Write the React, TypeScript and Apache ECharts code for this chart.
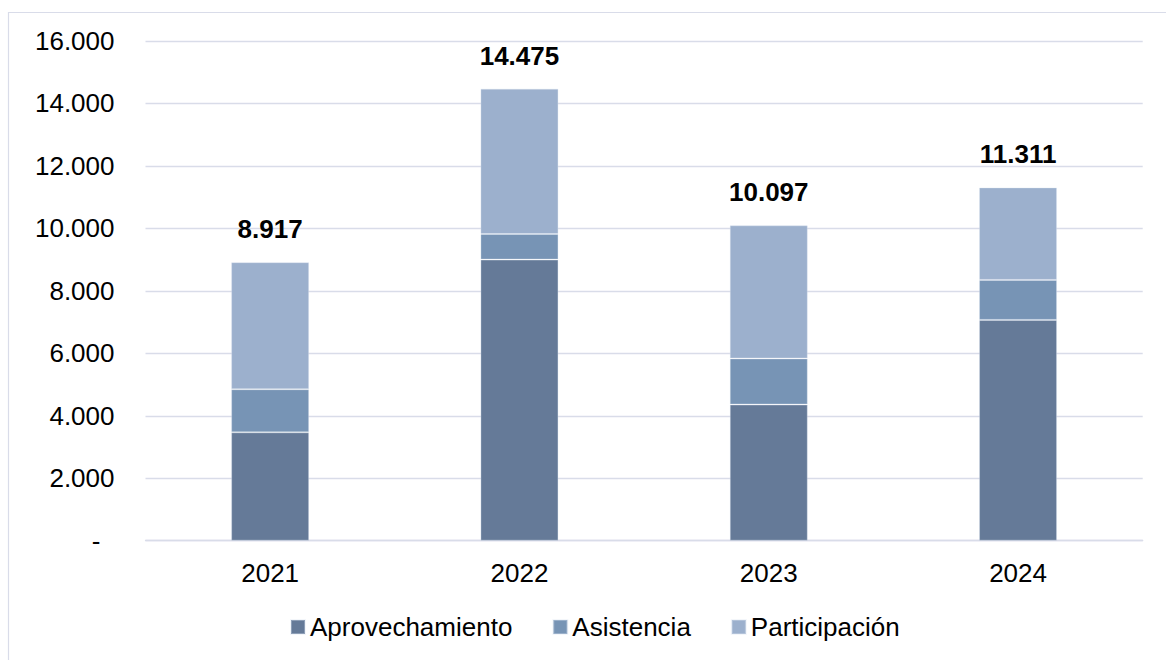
import React, { useEffect, useRef } from "react";
import * as echarts from "echarts";

const categories = ["2021", "2022", "2023", "2024"];
const aprovechamiento = [3470, 9000, 4360, 7070];
const asistencia = [1380, 820, 1475, 1280];
const participacion = [4067, 4655, 4262, 2961];
const totals = [8917, 14475, 10097, 11311];
const seriesNames = ["Aprovechamiento", "Asistencia", "Participación"];
const colors = ["#657a98", "#7794b5", "#9cb0cd"];

const FONT = "'Liberation Sans', Arial, sans-serif";

const fmt = (v: number) =>
  Math.round(v)
    .toString()
    .replace(/\B(?=(\d{3})+(?!\d))/g, ".");

export default function App() {
  const ref = useRef<HTMLDivElement>(null);
  useEffect(() => {
    if (!ref.current) return;
    const chart = echarts.init(ref.current, null, { renderer: "svg" });
    const mk = (name: string, data: number[], color: string, withLabel: boolean) => ({
      name,
      type: "bar",
      stack: "total",
      data,
      barWidth: 78,
      itemStyle: { color, borderColor: "rgba(220,228,240,0.35)", borderWidth: 1 },
      label: withLabel
        ? {
            show: true,
            position: "top",
            distance: 20,
            formatter: (p: any) => fmt(totals[p.dataIndex]),
            fontFamily: FONT,
            fontSize: 26,
            fontWeight: "bold",
            color: "#000",
          }
        : { show: false },
    });
    chart.setOption({
      animation: false,
      backgroundColor: "#fff",
      graphic: [
        {
          type: "rect",
          shape: { x: 8.5, y: 12.5, width: 1300, height: 800 },
          style: { fill: "none", stroke: "#d9dce9", lineWidth: 1.2 },
          silent: true,
          z: -10,
        },
      ],
      grid: { left: 145.5, right: 23.3, top: 41, bottom: 119.3, containLabel: false },
      legend: {
        data: seriesNames,
        left: 290,
        top: 614,
        padding: 0,
        itemWidth: 14,
        itemHeight: 14,
        itemGap: 40,
        icon: "rect",
        textStyle: { fontFamily: FONT, fontSize: 26, color: "#000" },
      },
      xAxis: {
        type: "category",
        data: categories,
        axisLine: { show: true, lineStyle: { color: "#d9dce9", width: 1.3 } },
        axisTick: { show: false },
        axisLabel: { fontFamily: FONT, fontSize: 26, color: "#000", margin: 19 },
      },
      yAxis: {
        type: "value",
        min: 0,
        max: 16000,
        interval: 2000,
        axisLine: { show: false },
        axisTick: { show: false },
        splitLine: { lineStyle: { color: "#d9dce9", width: 1.3 } },
        axisLabel: {
          fontFamily: FONT,
          fontSize: 26,
          color: "#000",
          margin: 31,
          formatter: (v: number) => (v === 0 ? "{d|-}" : fmt(v)),
          rich: {
            d: { fontFamily: FONT, fontSize: 26, color: "#000", padding: [0, 14, 0, 0] },
          },
        },
      },
      series: [
        mk(seriesNames[0], aprovechamiento, colors[0], false),
        mk(seriesNames[1], asistencia, colors[1], false),
        mk(seriesNames[2], participacion, colors[2], true),
      ],
    });
    return () => chart.dispose();
  }, []);
  return (
    <div
      ref={ref}
      style={{ position: "fixed", left: 0, top: 0, width: 1166, height: 660 }}
    />
  );
}
